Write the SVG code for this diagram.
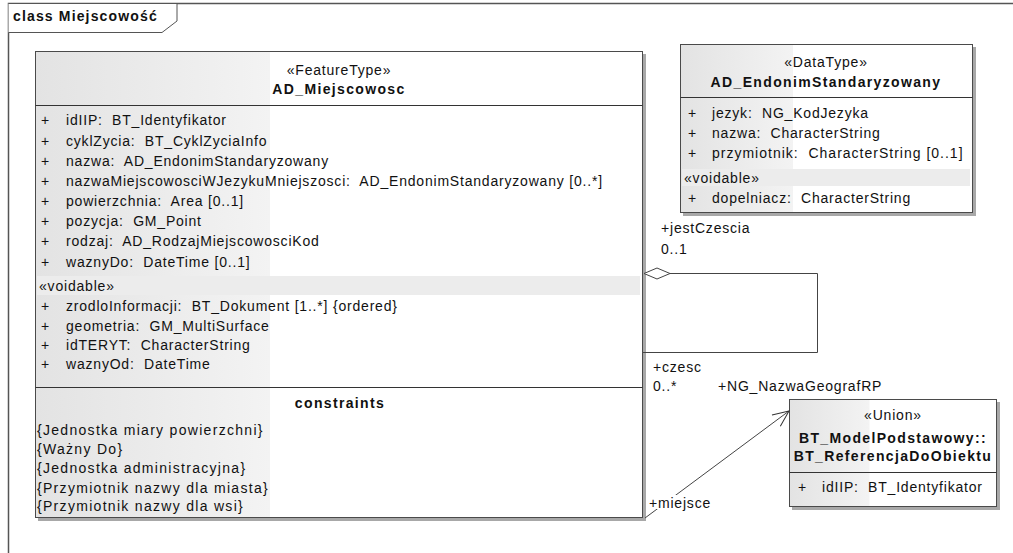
<svg xmlns="http://www.w3.org/2000/svg" width="1013" height="553" viewBox="0 0 1013 553">
<defs>
<linearGradient id="g" x1="0" y1="0" x2="1" y2="0">
<stop offset="0" stop-color="#e3e3e3"/>
<stop offset="0.386" stop-color="#f3f3f3"/>
<stop offset="0.387" stop-color="#ffffff"/>
<stop offset="1" stop-color="#ffffff"/>
</linearGradient>
<marker id="open" markerWidth="20" markerHeight="16" refX="17" refY="8" orient="auto" markerUnits="userSpaceOnUse">
<path d="M1,1 L17,8 L1,15" fill="none" stroke="#333" stroke-width="1"/>
</marker>
</defs>
<style>
text{font-family:"Liberation Sans",Arial,sans-serif;font-size:14px;fill:#111;letter-spacing:0.8px;white-space:pre}
.b{font-weight:bold;letter-spacing:1.35px}
.m{text-anchor:middle}
.c{letter-spacing:1.3px}
.box{fill:url(#g);stroke:#4a4a4a;stroke-width:1}
.sh{fill:#a8a8a8}
.sep{stroke:#333;stroke-width:1}
.band{fill:#ececec}
.ln{fill:none;stroke:#444;stroke-width:1}
</style>
<g id="frame">
<path d="M8.5,553 V3.5 H1013" fill="none" stroke="#555" stroke-width="1.5"/>
<path d="M8.5,3.5 H177 V21 L162,32.5 H8.5" fill="#fff" stroke="#555" stroke-width="1"/>
<text x="13" y="21" class="b" style="letter-spacing:1.15px">class Miejscowość</text>
</g>
<g id="AD_Miejscowosc">
<rect class="sh" x="38" y="54" width="608" height="467"/>
<rect class="box" x="35.5" y="51.5" width="607" height="466"/>
<text class="m" x="339" y="75">«FeatureType»</text>
<text class="m b" x="339" y="94">AD_Miejscowosc</text>
<line class="sep" x1="35.5" y1="105.5" x2="642.5" y2="105.5"/>
<text x="41" y="125">+</text><text x="66" y="125">idIIP:  BT_Identyfikator</text>
<text x="41" y="145.5">+</text><text x="66" y="145.5">cyklZycia:  BT_CyklZyciaInfo</text>
<text x="41" y="166">+</text><text x="66" y="166">nazwa:  AD_EndonimStandaryzowany</text>
<text x="41" y="186">+</text><text x="66" y="186">nazwaMiejscowosciWJezykuMniejszosci:  AD_EndonimStandaryzowany [0..*]</text>
<text x="41" y="206">+</text><text x="66" y="206">powierzchnia:  Area [0..1]</text>
<text x="41" y="226">+</text><text x="66" y="226">pozycja:  GM_Point</text>
<text x="41" y="246">+</text><text x="66" y="246">rodzaj:  AD_RodzajMiejscowosciKod</text>
<text x="41" y="266.5">+</text><text x="66" y="266.5">waznyDo:  DateTime [0..1]</text>
<rect class="band" x="37" y="276" width="603" height="19"/>
<text x="39" y="291">«voidable»</text>
<text x="41" y="311">+</text><text x="66" y="311">zrodloInformacji:  BT_Dokument [1..*] {ordered}</text>
<text x="41" y="330.5">+</text><text x="66" y="330.5">geometria:  GM_MultiSurface</text>
<text x="41" y="350">+</text><text x="66" y="350">idTERYT:  CharacterString</text>
<text x="41" y="369">+</text><text x="66" y="369">waznyOd:  DateTime</text>
<line class="sep" x1="35.5" y1="387.5" x2="642.5" y2="387.5"/>
<text class="m b" x="340" y="408">constraints</text>
<text class="c" x="37" y="435">{Jednostka miary powierzchni}</text>
<text class="c" x="37" y="454">{Ważny Do}</text>
<text class="c" x="37" y="473">{Jednostka administracyjna}</text>
<text class="c" x="37" y="493">{Przymiotnik nazwy dla miasta}</text>
<text class="c" x="37" y="511">{Przymiotnik nazwy dla wsi}</text>
</g>
<g id="AD_EndonimStandaryzowany">
<rect class="sh" x="683" y="47" width="293" height="169"/>
<rect class="box" x="680.5" y="44.5" width="292" height="168"/>
<text class="m" x="826" y="67">«DataType»</text>
<text class="m b" x="826" y="87">AD_EndonimStandaryzowany</text>
<line class="sep" x1="680.5" y1="97.5" x2="972.5" y2="97.5"/>
<text x="688" y="118">+</text><text x="712" y="118">jezyk:  NG_KodJezyka</text>
<text x="688" y="138">+</text><text x="712" y="138">nazwa:  CharacterString</text>
<text x="688" y="158">+</text><text x="712" y="158" style="letter-spacing:1px">przymiotnik:  CharacterString [0..1]</text>
<rect class="band" x="682" y="169" width="288" height="17"/>
<text x="684" y="183">«voidable»</text>
<text x="688" y="203">+</text><text x="712" y="203">dopelniacz:  CharacterString</text>
</g>
<g id="BT_ReferencjaDoObiektu">
<rect class="sh" x="792" y="402" width="208" height="108"/>
<rect class="box" x="789.5" y="399.5" width="207" height="107"/>
<text class="m" x="893" y="420">«Union»</text>
<text class="m b" x="893" y="443">BT_ModelPodstawowy::</text>
<text class="m b" x="893" y="461">BT_ReferencjaDoObiektu</text>
<line class="sep" x1="789.5" y1="472.5" x2="996.5" y2="472.5"/>
<text x="798" y="492">+</text><text x="822" y="492">idIIP:  BT_Identyfikator</text>
</g>
<g id="connectors">
<path class="ln" d="M670,273.5 H817.5 V352.5 H643"/>
<path d="M644,273.5 L657,268 L670,273.5 L657,279 Z" fill="#fff" stroke="#444" stroke-width="1"/>
<text x="661" y="233">+jestCzescia</text>
<text x="661" y="254">0..1</text>
<text x="653" y="372">+czesc</text>
<text x="653" y="391">0..*</text>
<text x="718" y="391">+NG_NazwaGeografRP</text>
<line class="ln" x1="645" y1="518" x2="789" y2="411" marker-end="url(#open)"/>
<rect x="649" y="495" width="66" height="14" fill="#fff"/>
<text x="649" y="508">+miejsce</text>
</g>
</svg>
